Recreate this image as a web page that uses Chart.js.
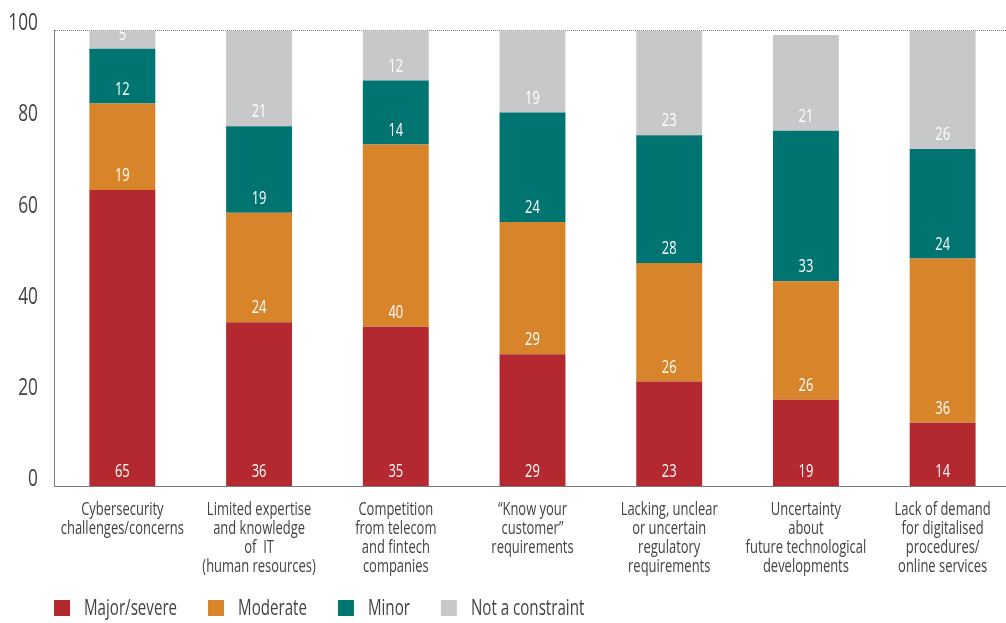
<!DOCTYPE html>
<html>
<head>
<meta charset="utf-8">
<script src="https://cdn.jsdelivr.net/npm/chart.js@4"></script>
<style>
  html, body { margin: 0; padding: 0; background: #fff; width: 1006px; height: 623px; overflow: hidden; }
  #wrap { width: 1011px; height: 623px; }
</style>
</head>
<body>
<div id="wrap"><canvas id="constraints" width="1011" height="623"></canvas></div>
<script>
const FONT = "'Open Sans', 'Noto Sans', sans-serif";
const SQUEEZE = 0.72;   // narrow the glyphs, no condensed face installed
const TEXT = '#424242';

const categories = [
    ['Cybersecurity', 'challenges/concerns'],
    ['Limited expertise', 'and knowledge', 'of  IT', '(human resources)'],
    ['Competition', 'from telecom', 'and fintech', 'companies'],
    ['\u201cKnow your', 'customer\u201d', 'requirements'],
    ['Lacking, unclear', 'or uncertain', 'regulatory', 'requirements'],
    ['Uncertainty', 'about', 'future technological', 'developments'],
    ['Lack of demand', 'for digitalised', 'procedures/', 'online services']
];

const majorSevere   = [65, 36, 35, 29, 23, 19, 14];
const moderate      = [19, 24, 40, 29, 26, 26, 36];
const minor         = [12, 19, 14, 24, 28, 33, 24];
const notConstraint = [5, 21, 12, 19, 23, 21, 26];

const seriesNames  = ['Major/severe', 'Moderate', 'Minor', 'Not a constraint'];
const seriesColors = ['#b4282f', '#d8842a', '#007470', '#c7c8ca'];

const yTicks = [0, 20, 40, 60, 80, 100];

let ctx = document.getElementById('constraints').getContext('2d');

// every string on this canvas goes out horizontally compressed
const rawFillText = ctx.fillText;
ctx.fillText = function (text, x, y, maxWidth) {
    const w = this.measureText(text).width * SQUEEZE;
    rawFillText.call(this, text, x, y, maxWidth === undefined ? w : Math.min(w, maxWidth));
};

// white value labels sit just above the base of each segment
const segmentLabels = {
    id: 'segmentLabels',
    afterDatasetsDraw(chart) {
        const c = chart.ctx;
        c.save();
        c.font = '18px ' + FONT;
        c.fillStyle = '#ffffff';
        c.textAlign = 'center';
        c.textBaseline = 'middle';
        chart.data.datasets.forEach((ds, i) => {
            chart.getDatasetMeta(i).data.forEach((bar, j) => {
                c.fillText(String(ds.data[j]), bar.x, bar.base - 14);
            });
        });
        c.restore();
    }
};

// legend row along the bottom, starting under the y axis line
const legendRow = {
    id: 'legendRow',
    afterDraw(chart) {
        const c = chart.ctx;
        const y = 608;
        let x = chart.chartArea.left;
        c.save();
        c.font = '21px ' + FONT;
        c.textAlign = 'left';
        c.textBaseline = 'middle';
        chart.data.datasets.forEach(ds => {
            c.fillStyle = ds.backgroundColor;
            c.fillRect(x, y - 8, 16, 16);
            x += 30;
            c.fillStyle = TEXT;
            c.fillText(ds.label, x, y + 1);
            x += c.measureText(ds.label).width * SQUEEZE + 31;
        });
        c.restore();
    }
};

const dotted = '#7a7a7a';

let myChart = new Chart(ctx, {
    type: 'bar',
    data: {
        labels: categories,
        datasets: seriesNames.map((name, i) => ({
            label: name,
            data: [majorSevere, moderate, minor, notConstraint][i],
            backgroundColor: seriesColors[i]
        }))
    },
    options: {
        responsive: false,
        animation: false,
        layout: { padding: { left: 0, top: 28.5, right: 0, bottom: 41.5 } },
        datasets: {
            bar: { categoryPercentage: 0.482, barPercentage: 1, borderWidth: 0 }
        },
        plugins: {
            tooltip: { enabled: false },
            legend: { display: false }
        },
        scales: {
            x: {
                stacked: true,
                grid: { display: false, drawTicks: false },
                border: { display: true, color: dotted, width: 1, dash: [1, 1] },
                ticks: {
                    color: TEXT,
                    padding: 14,
                    autoSkip: false,
                    maxRotation: 0,
                    font: { family: FONT, size: 18, lineHeight: '19px' }
                },
                afterFit(scale) {
                    scale.height = 95;
                    scale.paddingLeft = 0;
                    scale.paddingRight = 0;
                }
            },
            y: {
                stacked: true,
                min: 0,
                max: 100,
                afterBuildTicks(scale) { scale.ticks = yTicks.map(v => ({ value: v })); },
                grid: {
                    drawTicks: false,
                    color: c => (c.tick && c.tick.value === 100) ? dotted : 'rgba(0,0,0,0)',
                    lineWidth: 1
                },
                border: { display: true, color: dotted, width: 1, dash: [1, 1] },
                ticks: {
                    color: TEXT,
                    padding: 16,
                    labelOffset: -7,
                    font: { family: FONT, size: 24 }
                },
                afterFit(scale) { scale.width = 54; }
            }
        }
    },
    plugins: [segmentLabels, legendRow]
});
</script>
</body>
</html>
